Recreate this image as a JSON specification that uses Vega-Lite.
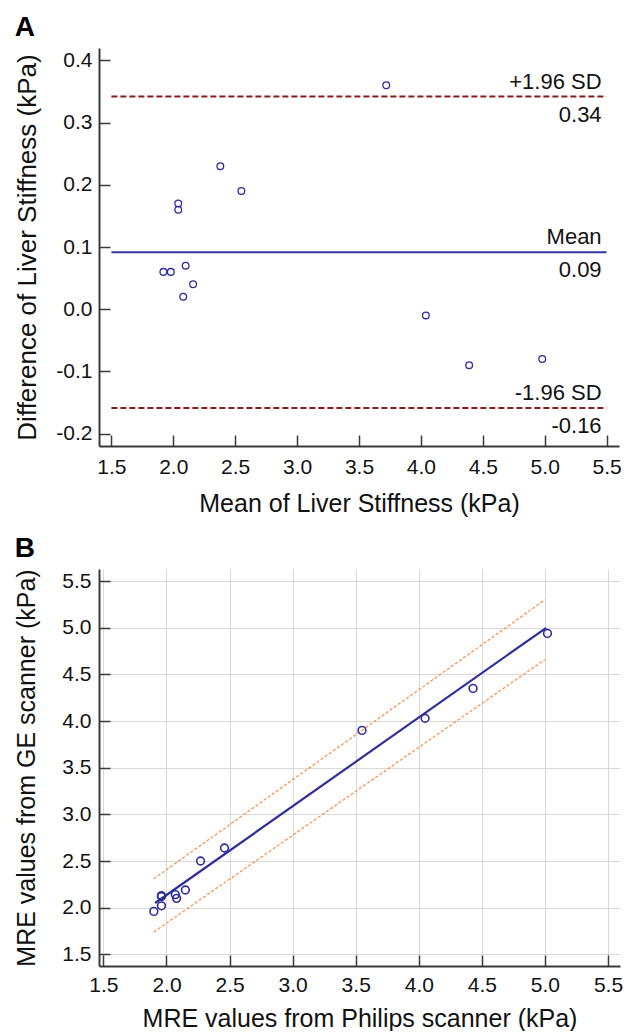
{
  "$schema": "https://vega.github.io/schema/vega-lite/v6.json",
  "padding": {"left": 14, "top": 14, "right": 0, "bottom": 0},
  "spacing": 18,
  "align": "none",
  "datasets": {
    "diffs": [
      {"mean": 3.72, "difference": 0.36},
      {"mean": 2.38, "difference": 0.23},
      {"mean": 2.55, "difference": 0.19},
      {"mean": 2.04, "difference": 0.17},
      {"mean": 2.04, "difference": 0.16},
      {"mean": 1.92, "difference": 0.06},
      {"mean": 1.98, "difference": 0.06},
      {"mean": 2.10, "difference": 0.07},
      {"mean": 2.08, "difference": 0.02},
      {"mean": 2.16, "difference": 0.04},
      {"mean": 4.04, "difference": -0.01},
      {"mean": 4.39, "difference": -0.09},
      {"mean": 4.98, "difference": -0.08}
    ],
    "limits": [
      {"line": "+1.96 SD", "value": 0.342, "label": "0.34", "from": 1.5, "to": 5.5},
      {"line": "Mean", "value": 0.0915, "label": "0.09", "from": 1.5, "to": 5.5},
      {"line": "-1.96 SD", "value": -0.159, "label": "-0.16", "from": 1.5, "to": 5.5}
    ],
    "scanners": [
      {"philips": 1.90, "ge": 1.96},
      {"philips": 1.96, "ge": 2.02},
      {"philips": 1.96, "ge": 2.13},
      {"philips": 1.96, "ge": 2.12},
      {"philips": 2.07, "ge": 2.14},
      {"philips": 2.08, "ge": 2.10},
      {"philips": 2.15, "ge": 2.19},
      {"philips": 2.27, "ge": 2.50},
      {"philips": 2.46, "ge": 2.64},
      {"philips": 3.55, "ge": 3.90},
      {"philips": 4.05, "ge": 4.03},
      {"philips": 4.43, "ge": 4.35},
      {"philips": 5.02, "ge": 4.94}
    ],
    "fit": [
      {"philips": 1.91, "ge": 2.05},
      {"philips": 5.01, "ge": 5.00}
    ],
    "bands": [
      {"band": "upper", "philips": 1.90, "ge": 2.31},
      {"band": "upper", "philips": 5.00, "ge": 5.30},
      {"band": "lower", "philips": 1.90, "ge": 1.74},
      {"band": "lower", "philips": 5.00, "ge": 4.66}
    ]
  },
  "config": {
    "font": "Liberation Sans",
    "view": {"stroke": null},
    "axis": {
      "domainColor": "#3a3a3a",
      "domainWidth": 2,
      "tickColor": "#3a3a3a",
      "tickWidth": 1.5,
      "tickSize": -11,
      "labelFont": "Liberation Sans",
      "labelFontSize": 21,
      "labelColor": "#111111",
      "titleFont": "Liberation Sans",
      "titleFontSize": 25,
      "titleFontWeight": "normal",
      "titleColor": "#111111",
      "grid": false
    },
    "title": {
      "font": "Liberation Sans",
      "fontSize": 28,
      "fontWeight": "bold",
      "anchor": "start",
      "frame": "bounds",
      "color": "#000000",
      "offset": 6
    }
  },
  "vconcat": [
    {
      "title": {"text": "A"},
      "width": 520,
      "height": 398,
      "layer": [
        {
          "data": {"name": "limits"},
          "mark": {"type": "rule", "strokeWidth": 2},
          "encoding": {
            "x": {"field": "from", "type": "quantitative"},
            "x2": {"field": "to"},
            "y": {"field": "value", "type": "quantitative"},
            "color": {"field": "line", "type": "nominal", "legend": null,
              "scale": {"domain": ["+1.96 SD", "Mean", "-1.96 SD"], "range": ["#8b1a1a", "#3636a8", "#8b1a1a"]}},
            "strokeDash": {"field": "line", "type": "nominal", "legend": null,
              "scale": {"domain": ["+1.96 SD", "Mean", "-1.96 SD"], "range": [[6, 3], [1, 0], [6, 3]]}}
          }
        },
        {
          "data": {"name": "limits"},
          "mark": {"type": "text", "align": "right", "baseline": "alphabetic", "dy": -8, "dx": -5, "fontSize": 22, "color": "#111111"},
          "encoding": {
            "x": {"field": "to", "type": "quantitative"},
            "y": {"field": "value", "type": "quantitative"},
            "text": {"field": "line"}
          }
        },
        {
          "data": {"name": "limits"},
          "mark": {"type": "text", "align": "right", "baseline": "top", "dy": 8, "dx": -5, "fontSize": 22, "color": "#111111"},
          "encoding": {
            "x": {"field": "to", "type": "quantitative"},
            "y": {"field": "value", "type": "quantitative"},
            "text": {"field": "label"}
          }
        },
        {
          "data": {"name": "diffs"},
          "mark": {"type": "point", "shape": "circle", "filled": false, "size": 45, "strokeWidth": 1.3, "color": "#2d2d9f", "opacity": 1},
          "encoding": {
            "x": {"field": "mean", "type": "quantitative",
              "scale": {"domain": [1.4, 5.6], "nice": false, "zero": false},
              "axis": {"values": [1.5, 2.0, 2.5, 3.0, 3.5, 4.0, 4.5, 5.0, 5.5], "format": ".1f", "labelPadding": 21, "titlePadding": 14},
              "title": "Mean of Liver Stiffness (kPa)"},
            "y": {"field": "difference", "type": "quantitative",
              "scale": {"domain": [-0.22, 0.42], "nice": false, "zero": false},
              "axis": {
                "values": [-0.2, -0.15, -0.1, -0.05, 0, 0.05, 0.1, 0.15, 0.2, 0.25, 0.3, 0.35, 0.4],
                "labelExpr": "abs(datum.value * 10 - round(datum.value * 10)) < 0.01 ? replace(format(datum.value, '.1f'), '\u2212', '-') : ''",
                "tickSize": {"condition": {"test": "abs(datum.value * 10 - round(datum.value * 10)) < 0.01", "value": -11}, "value": -5},
                "labelPadding": 18,
                "titlePadding": 15,
                "titleFontSize": 26
              },
              "title": "Difference of Liver Stiffness (kPa)"}
          }
        }
      ]
    },
    {
      "title": {"text": "B"},
      "width": 521,
      "height": 397,
      "layer": [
        {
          "data": {"name": "bands"},
          "mark": {"type": "line", "color": "#ff8a3d", "strokeWidth": 1.2, "strokeDash": [3, 2]},
          "encoding": {
            "x": {"field": "philips", "type": "quantitative"},
            "y": {"field": "ge", "type": "quantitative"},
            "detail": {"field": "band"}
          }
        },
        {
          "data": {"name": "fit"},
          "mark": {"type": "line", "color": "#2e2e9a", "strokeWidth": 2.2},
          "encoding": {
            "x": {"field": "philips", "type": "quantitative"},
            "y": {"field": "ge", "type": "quantitative"}
          }
        },
        {
          "data": {"name": "scanners"},
          "mark": {"type": "point", "shape": "circle", "filled": false, "size": 60, "strokeWidth": 1.6, "color": "#2d2d9f", "opacity": 1},
          "encoding": {
            "x": {"field": "philips", "type": "quantitative",
              "scale": {"domain": [1.465, 5.595], "nice": false, "zero": false},
              "axis": {"values": [1.5, 2.0, 2.5, 3.0, 3.5, 4.0, 4.5, 5.0, 5.5], "format": ".1f", "grid": true, "gridColor": "#d9d9d9", "gridWidth": 1, "labelPadding": 19, "titlePadding": 11},
              "title": "MRE values from Philips scanner (kPa)"},
            "y": {"field": "ge", "type": "quantitative",
              "scale": {"domain": [1.375, 5.63], "nice": false, "zero": false},
              "axis": {"values": [1.5, 2.0, 2.5, 3.0, 3.5, 4.0, 4.5, 5.0, 5.5], "format": ".1f", "grid": true, "gridColor": "#d9d9d9", "gridWidth": 1, "labelPadding": 19, "titlePadding": 22},
              "title": "MRE values from GE scanner (kPa)"}
          }
        }
      ]
    }
  ]
}
